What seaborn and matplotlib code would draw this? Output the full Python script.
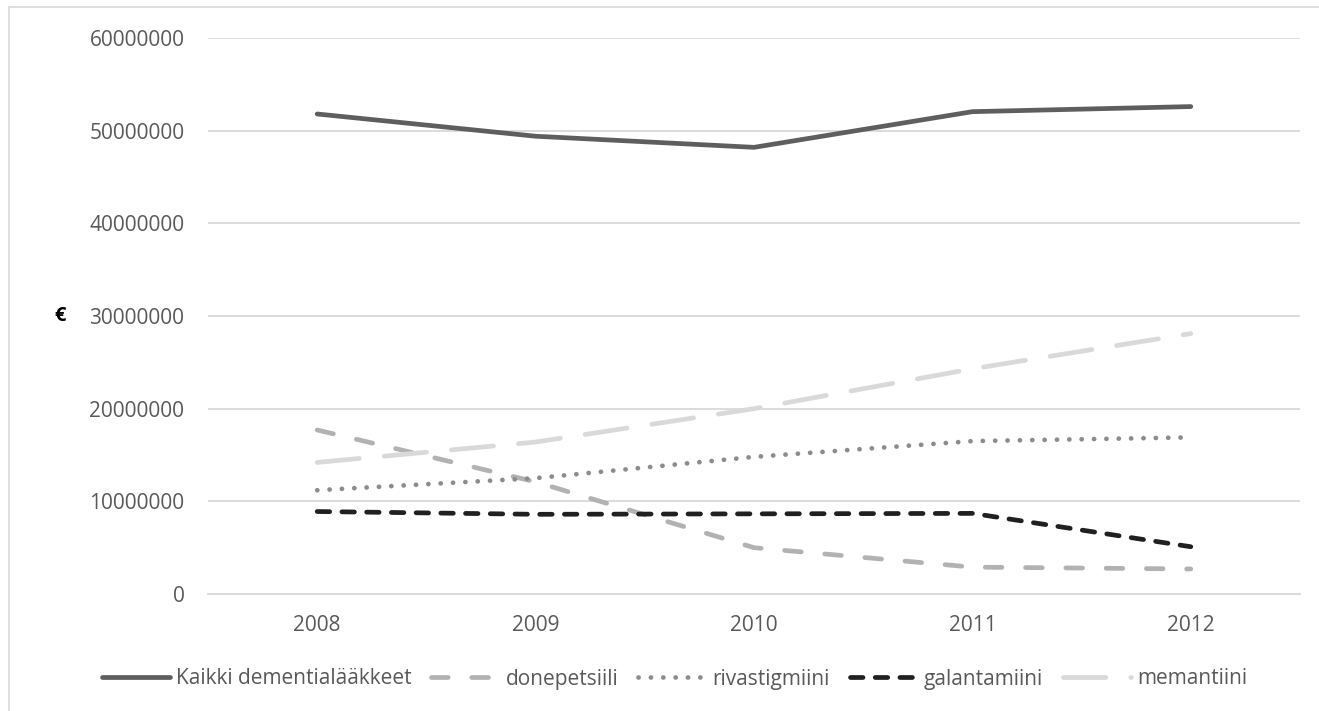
import matplotlib
matplotlib.use("Agg")
import matplotlib.pyplot as plt
from matplotlib.lines import Line2D
import seaborn as sns
import pandas as pd

# Yearly costs of dementia medicines (euros)
years = ["2008", "2009", "2010", "2011", "2012"]
kaikki = [51.8e6, 49.4e6, 48.2e6, 52.05e6, 52.6e6]
donepetsiili = [17.7e6, 12.1e6, 5.0e6, 2.9e6, 2.7e6]
rivastigmiini = [11.2e6, 12.5e6, 14.8e6, 16.5e6, 16.9e6]
galantamiini = [8.9e6, 8.6e6, 8.65e6, 8.7e6, 5.1e6]
memantiini = [14.2e6, 16.4e6, 20.0e6, 24.3e6, 28.1e6]

series_names = ["Kaikki dementialääkkeet", "donepetsiili", "rivastigmiini",
                "galantamiini", "memantiini"]
series_values = [kaikki, donepetsiili, rivastigmiini, galantamiini, memantiini]
yticks = [0, 10000000, 20000000, 30000000, 40000000, 50000000, 60000000]

colors = {
    "Kaikki dementialääkkeet": "#5e5e5e",
    "donepetsiili": "#b2b2b2",
    "rivastigmiini": "#8c8c8c",
    "galantamiini": "#202020",
    "memantiini": "#d9d9d9",
}
# dash patterns in points (on, off)
dashes = {
    "Kaikki dementialääkkeet": "",
    "donepetsiili": (12.0, 17.0),
    "rivastigmiini": (0.1, 8.8),
    "galantamiini": (9.0, 8.8),
    "memantiini": (30.5, 18.0),
}

rows = []
for name, vals in zip(series_names, series_values):
    for yr, v in zip(years, vals):
        rows.append({"Vuosi": yr, "Kustannus": v, "Sarja": name})
df = pd.DataFrame(rows)

sns.set_style("white")
plt.rcParams["lines.scale_dashes"] = False
plt.rcParams["font.family"] = ["Open Sans", "DejaVu Sans"]

W, H, DPI = 1319, 711, 100
fig = plt.figure(figsize=(W / DPI, H / DPI), dpi=DPI)
ax = fig.add_axes([208 / W, 1 - 594 / H, (1300 - 208) / W, (594 - 38) / H])

sns.lineplot(data=df, x="Vuosi", y="Kustannus", hue="Sarja", style="Sarja",
             hue_order=series_names, style_order=series_names,
             palette=colors, dashes=dashes, linewidth=3.4, legend=False,
             ax=ax, solid_capstyle="round", dash_capstyle="round")

ax.set_xlim(-0.5, len(years) - 0.5)
ax.set_ylim(0, 60000000)
ax.set_yticks(yticks)
ax.set_yticklabels([str(t) for t in yticks])
ax.grid(axis="y", color="#d9d9d9", linewidth=1.3)
ax.grid(axis="x", visible=False)
ax.set_axisbelow(True)
for s in ["top", "right", "left"]:
    ax.spines[s].set_visible(False)
ax.spines["bottom"].set_color("#d9d9d9")
ax.spines["bottom"].set_linewidth(1.3)
ax.tick_params(axis="both", length=0, labelsize=15, labelcolor="#595959")
ax.tick_params(axis="y", pad=17)
ax.tick_params(axis="x", pad=15)
ax.set_xlabel("")
ax.set_ylabel("€", rotation=0, fontsize=14.5, fontweight="bold", color="black",
              va="center", ha="center")
ax.yaxis.set_label_coords((60 - 208) / (1300 - 208), 0.5)

# legend below the plot area
handles = ax.get_lines()[:len(series_names)]
fs = 15
fig.legend(handles, series_names, loc="center", bbox_to_anchor=(674.5 / W, 1 - 679 / H),
           ncol=5, frameon=False, handlelength=49 / fs,
           handletextpad=0.3, columnspacing=0.95, labelcolor="#595959",
           prop={"family": ["Open Sans", "DejaVu Sans"], "size": fs})

# chart outer border
fig.add_artist(Line2D([9 / W, 9 / W], [0, 1 - 7 / H], color="#d9d9d9", lw=1.2,
                      transform=fig.transFigure))
fig.add_artist(Line2D([9 / W, 1], [1 - 7 / H, 1 - 7 / H], color="#d9d9d9", lw=1.2,
                      transform=fig.transFigure))

fig.savefig("out.png", dpi=DPI, facecolor="white")
